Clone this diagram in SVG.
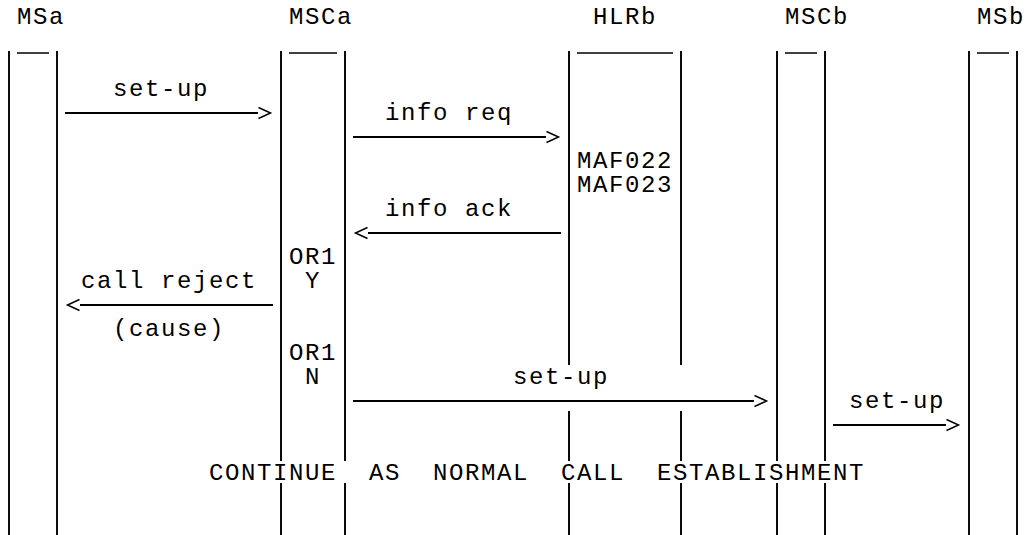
<svg xmlns="http://www.w3.org/2000/svg" width="1031" height="535" viewBox="0 0 1031 535">
<style>
text{font-family:"Liberation Mono","DejaVu Sans Mono",monospace;font-size:24px;letter-spacing:1.6px;fill:#000}
.bar{stroke:#000;stroke-width:1.9;fill:none}
.hd{stroke:#000;stroke-width:1.5;fill:none}
.msg{stroke:#000;stroke-width:1.9;fill:none;marker-end:url(#open)}
</style>
<defs>
<marker id="open" viewBox="0 0 13 12" refX="0" refY="6" markerWidth="13" markerHeight="12" markerUnits="userSpaceOnUse" orient="auto" overflow="visible">
<path d="M0.5,0.5 L12.5,6 L0.5,11.5" fill="none" stroke="#000" stroke-width="1.5"/>
</marker>
</defs>
<rect width="1031" height="535" fill="#fff"/>
<g id="MSa">
<text x="17" y="24">MSa</text>
<line class="hd" x1="17" y1="53" x2="49" y2="53"/>
<line class="bar" x1="9" y1="51" x2="9" y2="535"/>
<line class="bar" x1="57" y1="51" x2="57" y2="535"/>
</g>
<g id="MSCa">
<text x="289" y="24">MSCa</text>
<line class="hd" x1="289" y1="53" x2="337" y2="53"/>
<path class="bar" d="M281,51V461M281,483V535"/>
<path class="bar" d="M345,51V461M345,483V535"/>
<text x="289" y="264">OR1</text>
<text x="305" y="288">Y</text>
<text x="289" y="360">OR1</text>
<text x="305" y="384">N</text>
</g>
<g id="HLRb">
<text x="593" y="24">HLRb</text>
<line class="hd" x1="577" y1="53" x2="673" y2="53"/>
<path class="bar" d="M569,51V365M569,411V461M569,483V535"/>
<path class="bar" d="M681,51V365M681,411V461M681,483V535"/>
<text x="577" y="168">MAF022</text>
<text x="577" y="192">MAF023</text>
</g>
<g id="MSCb">
<text x="785" y="24">MSCb</text>
<line class="hd" x1="785" y1="53" x2="817" y2="53"/>
<path class="bar" d="M777,51V461M777,483V535"/>
<path class="bar" d="M825,51V461M825,483V535"/>
</g>
<g id="MSb">
<text x="977" y="24">MSb</text>
<line class="hd" x1="977" y1="53" x2="1009" y2="53"/>
<line class="bar" x1="969" y1="51" x2="969" y2="535"/>
<line class="bar" x1="1017" y1="51" x2="1017" y2="535"/>
</g>
<g id="connectors">
<line class="msg" x1="65" y1="113" x2="258" y2="113"/>
<text x="113" y="96">set-up</text>
<line class="msg" x1="353" y1="137" x2="546" y2="137"/>
<text x="385" y="120">info req</text>
<line class="msg" x1="561" y1="233" x2="368" y2="233"/>
<text x="385" y="216">info ack</text>
<line class="msg" x1="273" y1="305" x2="80" y2="305"/>
<text x="81" y="288">call reject</text>
<text x="113" y="336">(cause)</text>
<line class="msg" x1="353" y1="401" x2="754" y2="401"/>
<text x="513" y="384">set-up</text>
<line class="msg" x1="833" y1="425" x2="946" y2="425"/>
<text x="849" y="408">set-up</text>
</g>
<g id="note">
<text y="480"><tspan x="209">CONTINUE</tspan><tspan x="369">AS</tspan><tspan x="433">NORMAL</tspan><tspan x="561">CALL</tspan><tspan x="657">ESTABLISHMENT</tspan></text>
</g>
</svg>
